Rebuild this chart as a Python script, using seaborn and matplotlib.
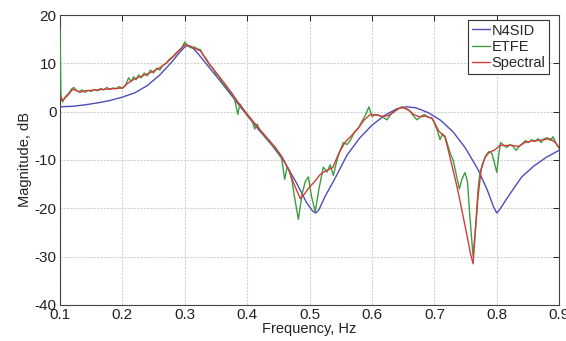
import matplotlib
matplotlib.use("Agg")
import matplotlib.pyplot as plt
import seaborn as sns
import pandas as pd

# Frequency response estimates (magnitude in dB vs frequency in Hz)
n4sid_freq = [0.100, 0.120, 0.140, 0.160, 0.180, 0.200, 0.220, 0.240, 0.260, 0.270,
              0.280, 0.290, 0.300, 0.305, 0.310, 0.320, 0.340, 0.360, 0.380, 0.400,
              0.420, 0.440, 0.460, 0.480, 0.495, 0.505, 0.510, 0.515, 0.525, 0.540,
              0.560, 0.580, 0.600, 0.620, 0.640, 0.655, 0.670, 0.690, 0.710, 0.730,
              0.750, 0.770, 0.785, 0.795, 0.800, 0.805, 0.815, 0.825, 0.840, 0.860,
              0.880, 0.900]
n4sid_mag = [1.0, 1.1, 1.4, 1.8, 2.3, 3.0, 3.9, 5.4, 7.6, 9.0,
             10.4, 12.0, 13.4, 13.7, 13.5, 12.2, 9.0, 5.8, 2.5, -0.8,
             -4.0, -7.0, -10.5, -15.0, -18.8, -20.6, -21.0, -20.3, -17.5, -14.0,
             -9.0, -5.5, -2.8, -0.8, 0.6, 1.0, 0.8, -0.2, -1.8, -4.2,
             -7.6, -12.0, -16.3, -19.8, -21.0, -20.2, -18.2, -16.3, -13.5, -11.2,
             -9.4, -8.0]

etfe_freq = [0.100, 0.1015, 0.104, 0.107, 0.110, 0.114, 0.118, 0.122, 0.126, 0.130,
             0.135, 0.140, 0.145, 0.150, 0.155, 0.160, 0.165, 0.170, 0.175, 0.180,
             0.185, 0.190, 0.195, 0.200, 0.205, 0.210, 0.214, 0.218, 0.222, 0.226,
             0.230, 0.235, 0.240, 0.245, 0.250, 0.255, 0.260, 0.265, 0.270, 0.275,
             0.280, 0.285, 0.290, 0.295, 0.300, 0.305, 0.310, 0.315, 0.320, 0.325,
             0.330, 0.335, 0.340, 0.345, 0.350, 0.355, 0.360, 0.365, 0.370, 0.375,
             0.380, 0.385, 0.388, 0.392, 0.396, 0.400, 0.404, 0.408, 0.412, 0.416,
             0.420, 0.425, 0.430, 0.435, 0.440, 0.445, 0.450, 0.455, 0.460, 0.464,
             0.468, 0.472, 0.476, 0.482, 0.488, 0.493, 0.498, 0.503, 0.509, 0.515,
             0.522, 0.528, 0.533, 0.538, 0.544, 0.549, 0.554, 0.560, 0.566, 0.572,
             0.578, 0.584, 0.590, 0.595, 0.600, 0.606, 0.612, 0.618, 0.624, 0.630,
             0.636, 0.642, 0.648, 0.654, 0.660, 0.666, 0.672, 0.678, 0.684, 0.690,
             0.696, 0.700, 0.705, 0.709, 0.713, 0.717, 0.721, 0.725, 0.730, 0.735,
             0.740, 0.744, 0.749, 0.753, 0.757, 0.762, 0.766, 0.770, 0.773, 0.778,
             0.783, 0.787, 0.792, 0.796, 0.800, 0.803, 0.806, 0.811, 0.816, 0.821,
             0.826, 0.831, 0.836, 0.841, 0.846, 0.851, 0.856, 0.861, 0.866, 0.871,
             0.876, 0.881, 0.886, 0.890, 0.895, 0.900]
etfe_mag = [17.0, 3.5, 2.0, 2.8, 3.3, 3.8, 4.6, 5.0, 4.4, 4.1,
            4.5, 4.0, 4.4, 4.2, 4.6, 4.3, 4.8, 4.5, 5.0, 4.6,
            4.9, 4.7, 5.2, 4.8, 5.5, 7.0, 6.2, 7.2, 6.6, 7.6,
            7.0, 8.0, 7.4, 8.6, 8.0, 9.0, 8.6, 9.6, 10.0, 10.8,
            11.3, 12.0, 12.6, 13.2, 14.4, 13.6, 13.2, 13.4, 13.0, 12.8,
            11.6, 10.8, 9.6, 9.0, 7.8, 7.2, 6.0, 5.4, 4.4, 3.8,
            2.4, -0.6, 1.6, 0.8, 0.0, -0.8, -1.2, -2.0, -3.6, -2.6,
            -3.8, -4.6, -5.4, -6.0, -7.0, -7.6, -8.6, -9.5, -14.0, -11.5,
            -12.2, -14.5, -17.8, -22.3, -17.0, -14.5, -13.5, -17.5, -20.7, -16.0,
            -11.5, -12.5, -11.0, -13.2, -10.0, -8.0, -6.4, -6.8, -5.8, -4.2,
            -3.4, -2.0, -0.6, 1.0, -1.0, -0.6, -0.8, -1.2, -1.7, -0.6,
            0.0, 0.6, 1.0, 0.6, 0.2, -0.8, -1.7, -1.0, -0.6, -1.2,
            -1.3, -2.4, -4.0, -5.8, -4.6, -5.1, -6.8, -8.5, -10.0, -13.0,
            -16.0, -14.0, -12.6, -14.5, -22.0, -30.0, -24.0, -16.0, -12.6, -10.5,
            -9.0, -8.3, -8.6, -10.5, -12.6, -9.0, -6.4, -7.0, -7.4, -6.8,
            -7.2, -8.0, -7.2, -6.6, -6.0, -6.4, -5.8, -6.2, -5.6, -6.4,
            -5.6, -5.4, -6.0, -5.2, -6.6, -7.6]

spectral_freq = [0.100, 0.104, 0.108, 0.114, 0.120, 0.126, 0.132, 0.140, 0.150, 0.160,
                 0.170, 0.180, 0.190, 0.200, 0.210, 0.220, 0.230, 0.240, 0.250, 0.260,
                 0.270, 0.280, 0.290, 0.300, 0.305, 0.315, 0.325, 0.335, 0.345, 0.355,
                 0.365, 0.375, 0.385, 0.395, 0.405, 0.415, 0.425, 0.435, 0.445, 0.455,
                 0.465, 0.475, 0.485, 0.492, 0.500, 0.508, 0.517, 0.527, 0.537, 0.547,
                 0.557, 0.567, 0.577, 0.587, 0.597, 0.607, 0.617, 0.627, 0.637, 0.647,
                 0.657, 0.667, 0.677, 0.687, 0.697, 0.707, 0.717, 0.727, 0.737, 0.745,
                 0.752, 0.758, 0.762, 0.766, 0.770, 0.775, 0.781, 0.788, 0.796, 0.805,
                 0.815, 0.825, 0.835, 0.845, 0.855, 0.865, 0.875, 0.885, 0.893, 0.900]
spectral_mag = [3.2, 2.2, 2.8, 3.6, 4.6, 4.4, 4.0, 4.3, 4.4, 4.5,
                4.6, 4.7, 4.8, 4.9, 6.0, 6.8, 7.3, 7.8, 8.4, 9.1,
                10.0, 11.2, 12.5, 13.9, 13.7, 13.1, 12.6, 10.6, 8.9, 7.3,
                5.6, 3.9, 2.0, 0.3, -1.3, -2.9, -4.4, -5.9, -7.4, -9.2,
                -11.6, -15.0, -18.0, -17.0, -15.6, -14.5, -13.0, -12.2, -11.6, -8.6,
                -6.3, -5.0, -3.6, -1.8, -0.6, -0.7, -1.0, -0.8, 0.2, 0.9,
                0.5, -0.6, -1.1, -0.9, -1.5, -4.0, -5.3, -10.5, -16.0, -21.0,
                -25.5, -29.5, -31.5, -24.0, -17.5, -12.0, -9.5, -8.4, -8.0, -7.0,
                -7.0, -7.0, -7.2, -6.4, -6.1, -6.0, -5.8, -5.6, -6.3, -7.5]

methods = ["N4SID", "ETFE", "Spectral"]
colors = ["#4d4db8", "#3f9d3f", "#d23c3c"]

x_ticks = [0.1, 0.2, 0.3, 0.4, 0.5, 0.6, 0.7, 0.8, 0.9]
x_tick_labels = ["0.1", "0.2", "0.3", "0.4", "0.5", "0.6", "0.7", "0.8", "0.9"]
y_ticks = [-40, -30, -20, -10, 0, 10, 20]
y_tick_labels = ["-40", "-30", "-20", "-10", "0", "10", "20"]

frames = []
for name, f, m in zip(methods,
                      [n4sid_freq, etfe_freq, spectral_freq],
                      [n4sid_mag, etfe_mag, spectral_mag]):
    frames.append(pd.DataFrame({"freq": f, "mag": m, "method": name}))
df = pd.concat(frames, ignore_index=True)

sns.set_theme(style="white")
plt.rcParams["font.family"] = ["Liberation Sans", "DejaVu Sans"]

fig = plt.figure(figsize=(5.66, 3.41), dpi=100)
ax = fig.add_axes([0.106, 0.106, 0.882, 0.850])

sns.lineplot(data=df, x="freq", y="mag", hue="method", hue_order=methods,
             palette=dict(zip(methods, colors)), sort=False, estimator=None,
             linewidth=1.0, ax=ax, zorder=3)

ax.set_xlim(0.1, 0.9)
ax.set_ylim(-40, 20)
ax.set_xticks(x_ticks)
ax.set_xticklabels(x_tick_labels)
ax.set_yticks(y_ticks)
ax.set_yticklabels(y_tick_labels)
ax.grid(True, color="#d2d2d2", linestyle=(0, (2, 1)), linewidth=0.8)
ax.tick_params(direction="in", length=4, width=0.7, top=True, right=True,
               labelsize=11, pad=2.5, colors="#222222")
for s in ax.spines.values():
    s.set_color("#444444")
    s.set_linewidth(0.8)

ax.set_xlabel("Frequency, Hz", fontsize=10.5, labelpad=0, color="#222222")
ax.set_ylabel("Magnitude, dB", fontsize=10.5, labelpad=2, color="#222222")

leg = ax.legend(loc="upper right", bbox_to_anchor=(0.980, 0.983), borderaxespad=0,
                fontsize=10.5, frameon=True, fancybox=False, framealpha=1,
                edgecolor="#333333", handlelength=1.2, handletextpad=0.15,
                labelspacing=0.15, borderpad=0.25)
leg.get_frame().set_linewidth(0.8)
leg.set_zorder(5)

fig.savefig("out.png", dpi=100)
